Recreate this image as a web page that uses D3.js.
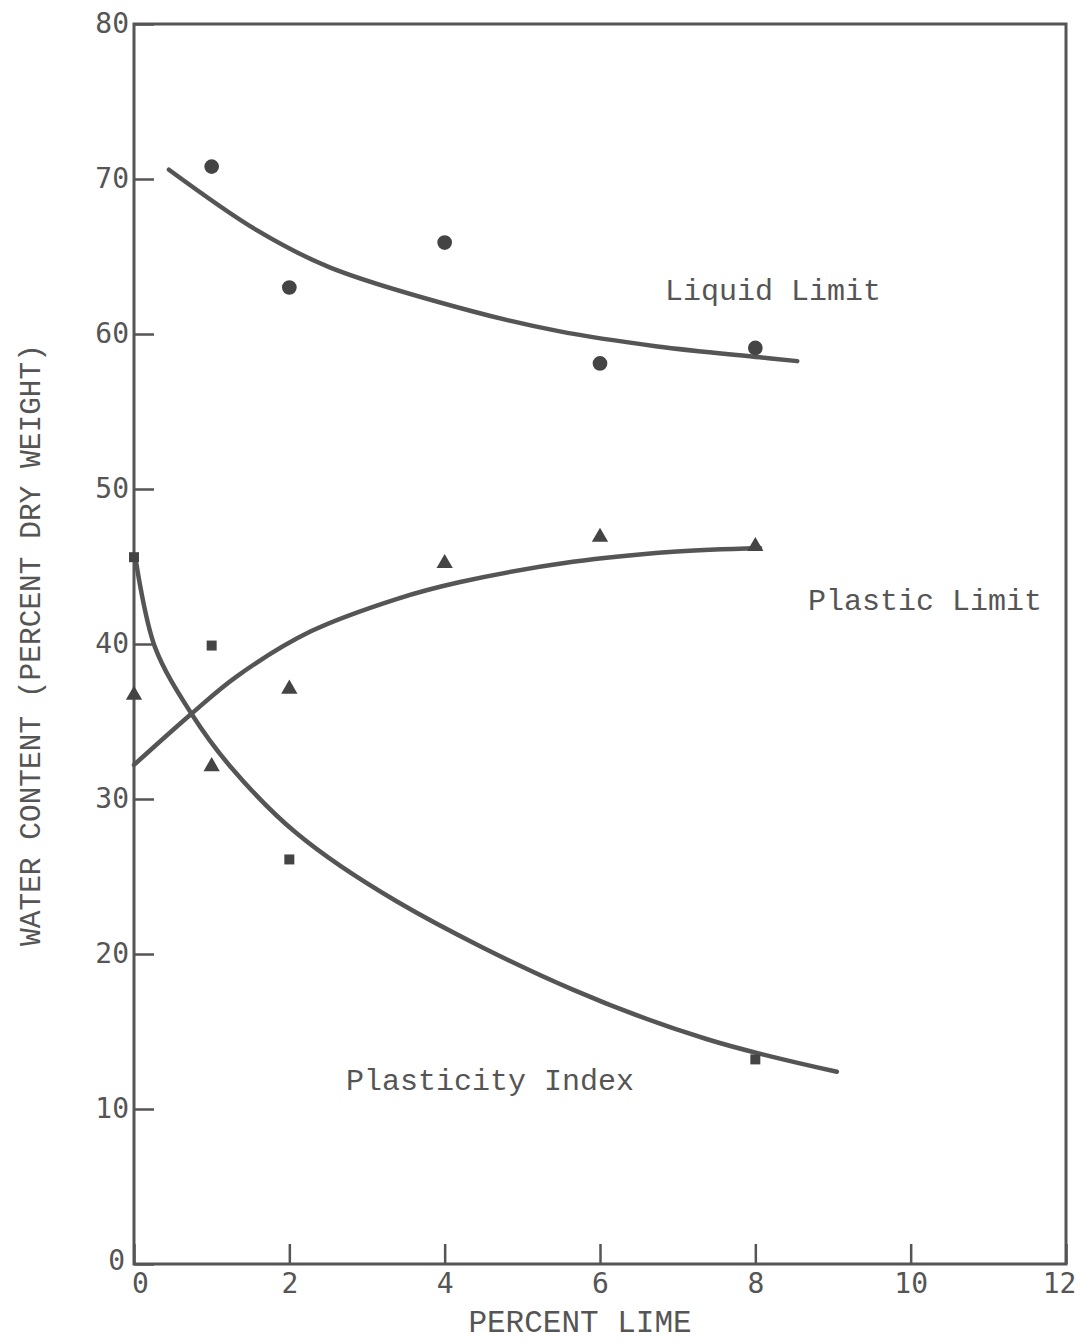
<!DOCTYPE html>
<html>
<head>
<meta charset="utf-8">
<script src="https://cdn.jsdelivr.net/npm/d3@7"></script>
<style>
  body { margin: 0; background: #fff; }
  .tick text { font-family: "DejaVu Sans Mono", monospace; fill: #555; }
</style>
</head>
<body>
<script>
// measured points (percent lime vs water content)
const limeLL = [1, 2, 4, 6, 8];
const liquidLimit = [70.8, 63.0, 65.9, 58.1, 59.1];
const limePL = [0, 1, 2, 4, 6, 8];
const plasticLimit = [36.7, 32.1, 37.1, 45.2, 46.9, 46.3];
const limePI = [0, 1, 2, 8];
const plasticityIndex = [45.6, 39.9, 26.1, 13.2];

// hand-fitted curves
const llCurveX = [0.45, 1.58, 2.52, 4.33, 5.45, 6.74, 8.06, 8.54];
const llCurveY = [70.6, 66.7, 64.3, 61.5, 60.2, 59.2, 58.5, 58.25];
const plCurveX = [0, 0.74, 1.32, 2.27, 3.38, 4.2, 5.65, 6.94, 8.06];
const plCurveY = [32.2, 35.5, 37.9, 40.8, 42.9, 44.0, 45.3, 45.95, 46.2];
const piCurveX = [0.03, 0.27, 0.74, 1.24, 2.09, 3.38, 5.65, 7.38, 9.05];
const piCurveY = [45.2, 39.8, 35.5, 32.1, 27.8, 23.4, 17.7, 14.5, 12.4];

const xTicks = [0, 2, 4, 6, 8, 10, 12];
const yTicks = [0, 10, 20, 30, 40, 50, 60, 70, 80];

const W = 1080, H = 1343;
const margin = {top: 24, right: 14, bottom: 79, left: 134};
const ink = "#555";

const svg = d3.select("body").append("svg")
  .attr("width", W).attr("height", H);

const x = d3.scaleLinear().domain([0, 12]).range([margin.left, W - margin.right]);
const y = d3.scaleLinear().domain([0, 80]).range([H - margin.bottom, margin.top]);

// frame
svg.append("rect")
  .attr("x", x(0)).attr("y", y(80))
  .attr("width", x(12) - x(0)).attr("height", y(0) - y(80))
  .attr("fill", "none").attr("stroke", ink).attr("stroke-width", 3);

// axes, ticks point inward
const xAxis = svg.append("g")
  .attr("transform", "translate(0," + y(0) + ")")
  .call(d3.axisBottom(x).tickValues(xTicks).tickSize(-20).tickPadding(9));
const yAxis = svg.append("g")
  .attr("transform", "translate(" + x(0) + ",0)")
  .call(d3.axisLeft(y).tickValues(yTicks).tickSize(-20).tickPadding(5));

[xAxis, yAxis].forEach(g => {
  g.select(".domain").remove();
  g.selectAll(".tick line").attr("stroke", ink).attr("stroke-width", 2.5);
  g.selectAll(".tick text").attr("font-size", 28);
});
// nudge the end labels as in the original
xAxis.selectAll(".tick text")
  .attr("dx", d => d === 0 ? 6 : (d === 12 ? -7 : 0));
yAxis.selectAll(".tick text")
  .attr("dx", d => d === 0 ? -4 : 0)
  .attr("dy", d => d === 0 ? "0.2em" : "0.32em");

// axis titles
svg.append("text")
  .attr("x", 580).attr("y", 1332)
  .attr("text-anchor", "middle")
  .attr("font-family", "Liberation Mono, Courier New, monospace")
  .attr("font-size", 31).attr("fill", ink)
  .text("PERCENT LIME");

svg.append("text")
  .attr("transform", "translate(40,645) rotate(-90)")
  .attr("text-anchor", "middle")
  .attr("font-family", "Liberation Mono, Courier New, monospace")
  .attr("font-size", 29.5).attr("fill", ink)
  .text("WATER CONTENT (PERCENT DRY WEIGHT)");

// curves
const line = d3.line()
  .x(d => x(d[0])).y(d => y(d[1]))
  .curve(d3.curveCatmullRom.alpha(0.5));

[[llCurveX, llCurveY], [plCurveX, plCurveY], [piCurveX, piCurveY]].forEach(c => {
  svg.append("path")
    .datum(d3.zip(c[0], c[1]))
    .attr("d", line)
    .attr("fill", "none")
    .attr("stroke", ink)
    .attr("stroke-width", 4.5)
    .attr("stroke-linecap", "round");
});

// markers
const markColor = "#444";
svg.selectAll(".ll")
  .data(d3.zip(limeLL, liquidLimit))
  .enter().append("path")
  .attr("class", "ll")
  .attr("transform", d => "translate(" + x(d[0]) + "," + y(d[1]) + ")")
  .attr("d", d3.symbol(d3.symbolCircle, 170))
  .attr("fill", markColor);

svg.selectAll(".pl")
  .data(d3.zip(limePL, plasticLimit))
  .enter().append("path")
  .attr("class", "pl")
  .attr("transform", d => "translate(" + x(d[0]) + "," + y(d[1]) + ")")
  .attr("d", d3.symbol(d3.symbolTriangle, 115))
  .attr("fill", markColor);

svg.selectAll(".pi")
  .data(d3.zip(limePI, plasticityIndex))
  .enter().append("path")
  .attr("class", "pi")
  .attr("transform", d => "translate(" + x(d[0]) + "," + y(d[1]) + ")")
  .attr("d", d3.symbol(d3.symbolSquare, 100))
  .attr("fill", markColor);

// curve labels
const labels = [
  {t: "Liquid Limit", x: 665, y: 300},
  {t: "Plastic Limit", x: 808, y: 610},
  {t: "Plasticity Index", x: 346, y: 1090}
];
svg.selectAll(".lbl")
  .data(labels)
  .enter().append("text")
  .attr("x", d => d.x).attr("y", d => d.y)
  .attr("font-family", "Liberation Mono, Courier New, monospace")
  .attr("font-size", 30).attr("fill", ink)
  .text(d => d.t);
</script>
</body>
</html>
